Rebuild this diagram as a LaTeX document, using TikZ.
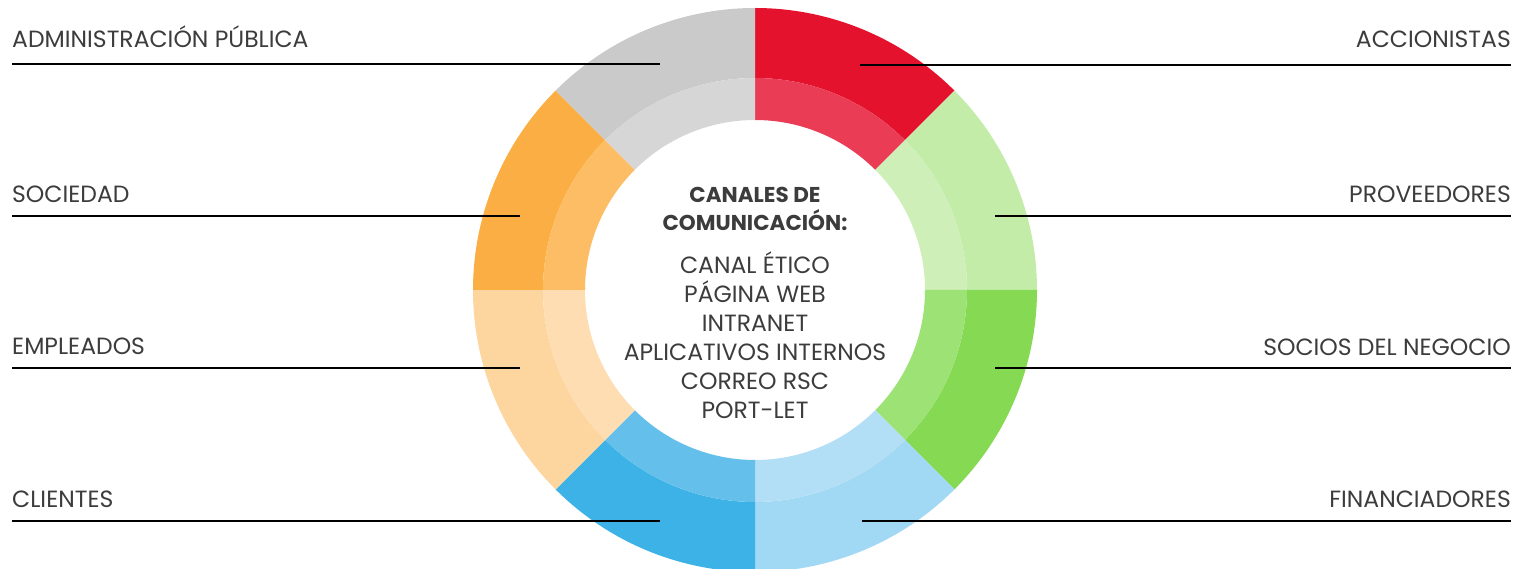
\documentclass[tikz,border=0pt]{standalone}
\usepackage{fontspec}
\setmainfont{Poppins}
\usepackage{xcolor}
\definecolor{textGray}{RGB}{60, 60, 60}
\definecolor{colGray}{RGB}{202, 202, 202}
\definecolor{colGrayIn}{RGB}{214, 214, 214}
\definecolor{colRed}{RGB}{229, 18, 46}
\definecolor{colRedIn}{RGB}{234, 61, 85}
\definecolor{colLime}{RGB}{195, 236, 168}
\definecolor{colLimeIn}{RGB}{206, 240, 184}
\definecolor{colGreen}{RGB}{134, 217, 82}
\definecolor{colGreenIn}{RGB}{157, 226, 117}
\definecolor{colSky}{RGB}{161, 216, 243}
\definecolor{colSkyIn}{RGB}{178, 223, 245}
\definecolor{colBlue}{RGB}{61, 178, 230}
\definecolor{colBlueIn}{RGB}{100, 192, 234}
\definecolor{colPeach}{RGB}{252, 213, 159}
\definecolor{colPeachIn}{RGB}{253, 221, 177}
\definecolor{colOrange}{RGB}{251, 174, 67}
\definecolor{colOrangeIn}{RGB}{252, 189, 101}
\usetikzlibrary{positioning}

\begin{document}
\begin{tikzpicture}[
		x=1pt, y=1pt,
		font=\fontsize{23.5}{28}\selectfont,
		lbl/.style={inner sep=0pt, text=textGray, anchor=south west},
		lblr/.style={inner sep=0pt, text=textGray, anchor=south east},
		head/.style={inner sep=0pt, text=textGray, align=center,
			font=\fontsize{21.5}{28}\selectfont\bfseries},
		chan/.style={inner sep=0pt, text=textGray, align=center,
			font=\fontsize{23.5}{29}\selectfont},
		leader/.style={draw=black, line width=1.2pt}
		]
		\useasboundingbox (0,0) rectangle (1519,-569);

		% ring segments: start angle / outer colour / inner colour
		\begin{scope}[shift={(755,-290)}]
			\foreach \a/\co/\ci in {90/colRed/colRedIn, 45/colLime/colLimeIn,
				0/colGreen/colGreenIn, -45/colSky/colSkyIn, -90/colBlue/colBlueIn,
				-135/colPeach/colPeachIn, 180/colOrange/colOrangeIn,
				135/colGray/colGrayIn}{
				\fill[\co] (\a:282) arc[start angle=\a, delta angle=-45, radius=282]
					-- (\a-45:212) arc[start angle=\a-45, delta angle=45, radius=212] -- cycle;
				\fill[\ci] (\a:212) arc[start angle=\a, delta angle=-45, radius=212]
					-- (\a-45:170) arc[start angle=\a-45, delta angle=45, radius=170] -- cycle;
			}
		\end{scope}

		% centre text
		\node[head, anchor=north] (head) at (755,-187) {CANALES DE\\COMUNICACIÓN:};
		\node[chan, below=21pt of head] (chan)
		{CANAL ÉTICO\\PÁGINA WEB\\INTRANET\\APLICATIVOS INTERNOS\\CORREO RSC\\PORT-LET};

		% left side
		\coordinate (adminL) at (12,-64);   \coordinate (adminR) at (660,-64);
		\coordinate (socL) at (12,-216);    \coordinate (socR) at (520,-216);
		\coordinate (empL) at (12,-368);    \coordinate (empR) at (520,-368);
		\coordinate (cliL) at (12,-521);    \coordinate (cliR) at (660,-521);
		\node[lbl, above=16pt of adminL, anchor=south west] (admin) {ADMINISTRACIÓN PÚBLICA};
		\node[lbl, above=13pt of socL, anchor=south west] (soc) {SOCIEDAD};
		\node[lbl, above=13pt of empL, anchor=south west] (emp) {EMPLEADOS};
		\node[lbl, above=13pt of cliL, anchor=south west] (cli) {CLIENTES};

		% right side
		\coordinate (accL) at (860,-65);    \coordinate (accR) at (1511,-65);
		\coordinate (provL) at (995,-216);  \coordinate (provR) at (1511,-216);
		\coordinate (sociosL) at (995,-368); \coordinate (sociosR) at (1511,-368);
		\coordinate (finL) at (862,-521);   \coordinate (finR) at (1511,-521);
		\node[lblr, above=17pt of accR, anchor=south east] (acc) {ACCIONISTAS};
		\node[lblr, above=13pt of provR, anchor=south east] (prov) {PROVEEDORES};
		\node[lblr, above=12pt of sociosR, anchor=south east] (socios) {SOCIOS DEL NEGOCIO};
		\node[lblr, above=13pt of finR, anchor=south east] (fin) {FINANCIADORES};

		\draw[leader] (adminL) -- (adminR);
		\draw[leader] (socL)   -- (socR);
		\draw[leader] (empL)   -- (empR);
		\draw[leader] (cliL)   -- (cliR);
		\draw[leader] (accL)   -- (accR);
		\draw[leader] (provL)  -- (provR);
		\draw[leader] (sociosL) -- (sociosR);
		\draw[leader] (finL)   -- (finR);
	\end{tikzpicture}
\end{document}
